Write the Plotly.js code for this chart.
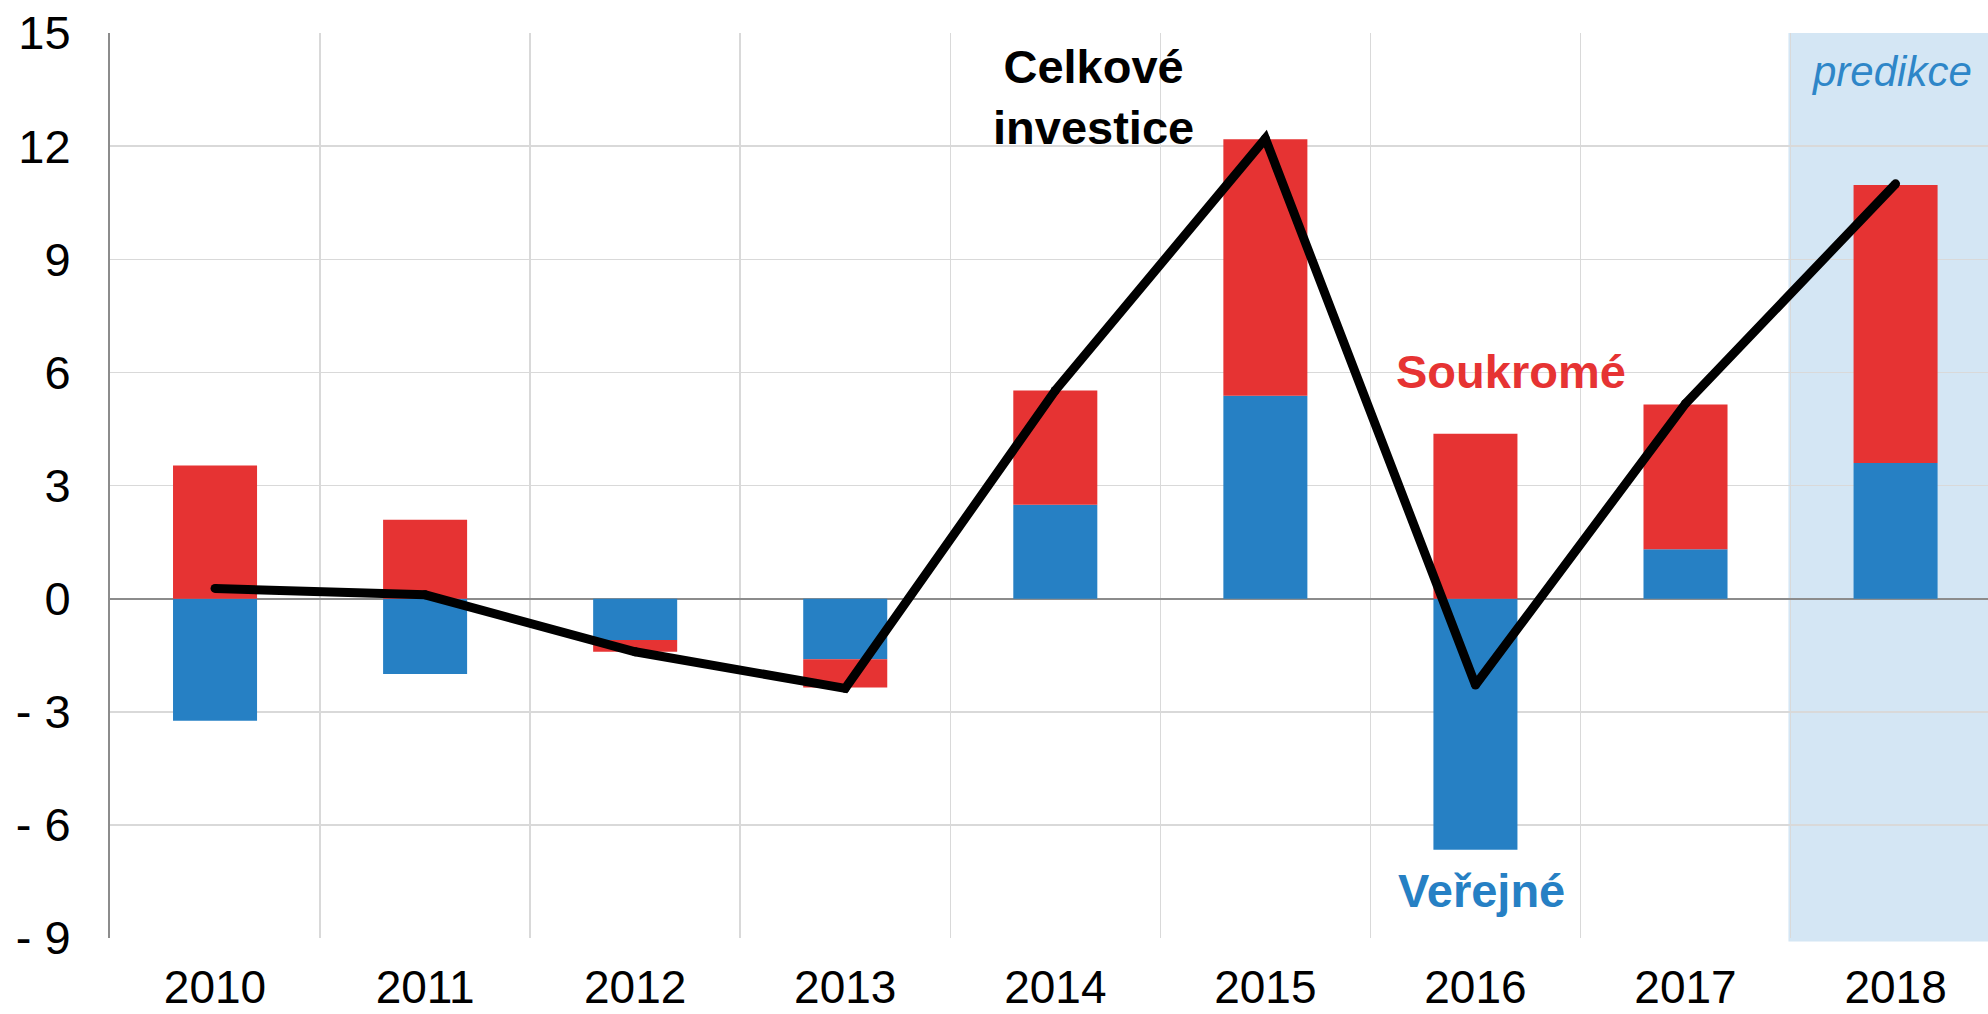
<!DOCTYPE html>
<html>
<head>
<meta charset="utf-8">
<script src="https://cdn.plot.ly/plotly-3.0.1.min.js"></script>
<style>html,body{margin:0;padding:0;background:#fff;}#chart{width:1988px;height:1014px;}</style>
</head>
<body>
<div id="chart"></div>
<script>
const years = ['2010','2011','2012','2013','2014','2015','2016','2017','2018'];
const verejne = [-3.24, -2.0, -1.1, -1.61, 2.49, 5.38, -6.66, 1.31, 3.6];
const soukrome = [3.53, 2.09, -0.31, -0.75, 3.03, 6.8, 4.37, 3.84, 7.37];
const celkove = [0.27, 0.1, -1.41, -2.38, 5.52, 12.2, -2.29, 5.17, 11.0];
const yTickVals = [-9, -6, -3, 0, 3, 6, 9, 12, 15];
const yTickText = ['- 9', '- 6', '- 3', '0', '3', '6', '9', '12', '15'];

const FONT = 'Liberation Sans, Arial, sans-serif';
const RED = '#e63333';
const BLUE = '#2680c4';

const traces = [
  {type:'bar', x: years, y: verejne, name:'Veřejné', marker:{color: BLUE}, width:0.4, hoverinfo:'skip'},
  {type:'bar', x: years, y: soukrome, name:'Soukromé', marker:{color: RED}, width:0.4, hoverinfo:'skip'},
  {type:'scatter', mode:'lines+markers', x: years, y: celkove, name:'Celkové investice',
   line:{color:'#000', width:9}, marker:{color:'#000', size:9}, hoverinfo:'skip'}
];

const layout = {
  width:1988, height:1014,
  margin:{l:110, r:0, t:33, b:76},
  paper_bgcolor:'#fff', plot_bgcolor:'#fff',
  barmode:'relative',
  showlegend:false,
  font:{family: FONT, color:'#000', size:47},
  xaxis:{
    type:'category', range:[-0.5, 8.44], tickson:'boundaries',
    showgrid:true, gridcolor:'#d9d9d9', gridwidth:1.5,
    ticks:'', showline:false, zeroline:false,
    tickfont:{family: FONT, size:46, color:'#000'},
    ticklabelstandoff: 18, fixedrange:true
  },
  yaxis:{
    range:[-9, 15], tickvals: yTickVals, ticktext: yTickText,
    showgrid:true, gridcolor:'#d9d9d9', gridwidth:1.5,
    zeroline:true, zerolinecolor:'#8c8c8c', zerolinewidth:2,
    showline:true, linecolor:'#8c8c8c', linewidth:2,
    ticks:'', tickfont:{family: FONT, size:47, color:'#000'},
    ticklabelstandoff: 28, fixedrange:true
  },
  shapes:[
    {type:'rect', xref:'x', yref:'paper', x0:7.49, x1:8.6, y0:-0.004, y1:1,
     fillcolor:'#d4e6f4', line:{width:0}, layer:'below'}
  ],
  annotations:[
    {xref:'x', yref:'y', x:4.18, y:13.31, text:'<b>Celkové<br>investice</b>', showarrow:false,
     font:{family: FONT, size:47, color:'#000'}, align:'center'},
    {xref:'x', yref:'y', x:6.17, y:6.03, text:'<b>Soukromé</b>', showarrow:false,
     font:{family: FONT, size:47, color: RED}},
    {xref:'x', yref:'y', x:6.03, y:-7.73, text:'<b>Veřejné</b>', showarrow:false,
     font:{family: FONT, size:47, color: BLUE}},
    {xref:'x', yref:'y', x:7.98, y:13.97, text:'<i>predikce</i>', showarrow:false,
     font:{family: FONT, size:42, color:'#2e86c8'}}
  ]
};

Plotly.newPlot('chart', traces, layout, {staticPlot:true, displayModeBar:false});
</script>
</body>
</html>
